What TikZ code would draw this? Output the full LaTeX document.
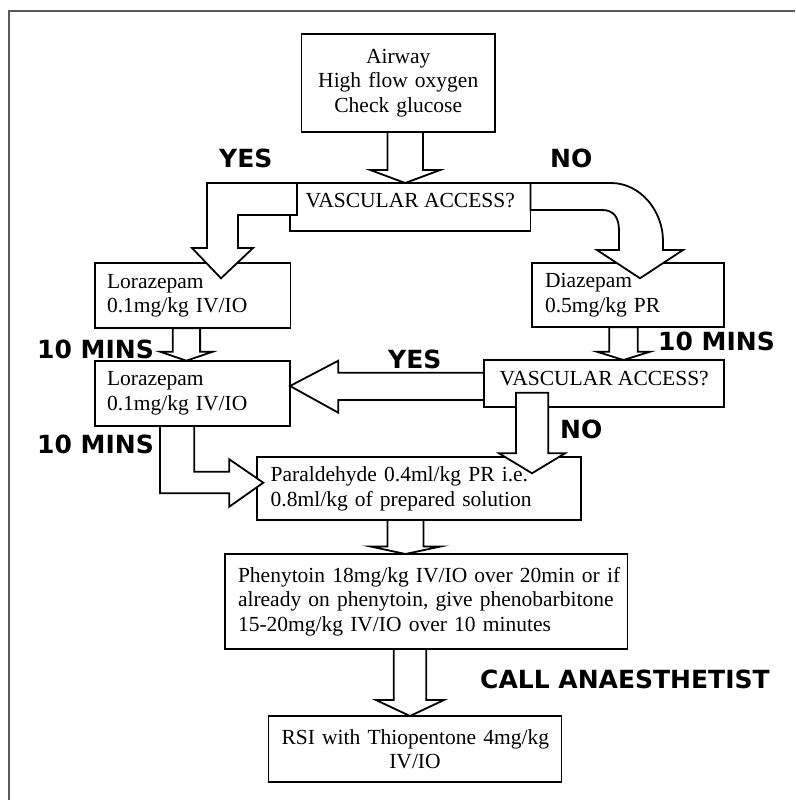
\documentclass[tikz,border=0pt]{standalone}
\usepackage{fontspec}
\setmainfont{Liberation Serif}
\newfontfamily\lblfont{DejaVu Sans}
\usetikzlibrary{calc}
\definecolor{framecol}{HTML}{5A5A5A}
\tikzset{
  box/.style={draw=black, line width=1.8pt, fill=white, outer sep=0pt, inner ysep=0pt,
    anchor=north west, font=\fontsize{21.5}{24.5}\selectfont},
  blk/.style={draw=black, line width=1.8pt, fill=white, line join=miter},
  lbl/.style={anchor=base west, inner sep=0pt, font=\lblfont\fontsize{25}{30}\selectfont\bfseries},
}
% vertical block arrow: x-centre, half shaft, half head, head length, source node, target node
\newcommand{\vblk}[6]{%
  \draw[blk] let \p1=(#5.south), \p2=(#6.north) in
    (#1pt-#2pt,\y1) -- (#1pt-#2pt,\y2+#4pt) -- (#1pt-#3pt,\y2+#4pt) -- (#1pt,\y2)
    -- (#1pt+#3pt,\y2+#4pt) -- (#1pt+#2pt,\y2+#4pt) -- (#1pt+#2pt,\y1) -- cycle;}
\begin{document}
\begin{tikzpicture}[x=1pt,y=-1pt]
\useasboundingbox (0,0) rectangle (795,800);
\draw[framecol, line width=2pt] (9,800) -- (9,11) -- (795,11);

% boxes
\node[box, minimum width=193.5pt, minimum height=97.7pt, inner xsep=13pt, text width=167.5pt, align=center]
  (top) at (301.5,34.3) {Airway\\High flow oxygen\\Check glucose};
\node[box, minimum width=240.5pt, minimum height=48pt, inner xsep=0pt, text height=12pt, text depth=12pt]
  (va1) at (290,183) {VASCULAR ACCESS?};
\node[box, minimum width=195.5pt, minimum height=65pt, inner xsep=12pt, text width=171.5pt, align=left]
  (lz1) at (95,263.3) {Lorazepam\\0.1mg/kg IV/IO};
\node[box, minimum width=192.3pt, minimum height=64pt, inner xsep=13.3pt, text width=165.7pt, align=left]
  (dz) at (531.7,263.3) {Diazepam\\0.5mg/kg PR};
\node[box, minimum width=195pt, minimum height=65.3pt, inner xsep=12pt, text width=171pt, align=left]
  (lz2) at (95,360.7) {Lorazepam\\0.1mg/kg IV/IO};
\node[box, minimum width=240.3pt, minimum height=47.3pt, inner xsep=0pt, text height=13.5pt, text depth=10.8pt]
  (va2) at (484,360) {VASCULAR ACCESS?};
\node[box, minimum width=323.7pt, minimum height=62.7pt, inner xsep=13.4pt, text width=296.9pt, align=left]
  (par) at (257.3,457.3) {\mbox{Paraldehyde 0.4ml/kg PR i.e.}\\\mbox{0.8ml/kg of prepared solution}};
\node[box, minimum width=402.5pt, minimum height=95pt, inner xsep=13pt, text width=376.5pt, align=left]
  (phe) at (225,554) {\mbox{Phenytoin 18mg/kg IV/IO over 20min or if}\\\mbox{already on phenytoin, give phenobarbitone}\\\mbox{15-20mg/kg IV/IO over 10 minutes}};
\node[box, minimum width=293pt, minimum height=66pt, inner xsep=13pt, text width=267pt, align=center]
  (rsi) at (268.5,716) {\mbox{RSI with Thiopentone 4mg/kg}\\IV/IO};

% straight block arrows
\vblk{405.2}{17.7}{35}{13}{top}{va1}
\vblk{186.4}{13.7}{26.4}{9}{lz1}{lz2}
\vblk{623.5}{14.2}{26.7}{8.3}{dz}{va2}
\vblk{405.5}{18}{35}{7.5}{par}{phe}
\vblk{410}{16.3}{34}{16}{phe}{rsi}

% YES: va1 -> lz1
\draw[blk] let \p1=(va1.north west), \p2=(lz1.north) in
  (\x1+7pt,\y1) -- (\x1-83pt,\y1) -- (\x1-83pt,\y2+15.3pt) -- (\x1-98pt,\y2+15.3pt)
  -- (\x1-69pt,\y2-15pt) -- (\x1-37pt,\y2+15.3pt) -- (\x1-52pt,\y2+15.3pt)
  -- (\x1-52pt,\y1-32pt) -- (\x1+7pt,\y1-32pt) -- cycle;

% NO: va1 -> dz (curved)
\draw[blk] let \p1=(va1.north east), \p2=(dz.north) in
  (\x1,\y1) -- (\x1+80.5pt,\y1)
  .. controls (\x1+110pt,\y1) and (\x1+132.5pt,\y1-28pt) .. (\x1+132.5pt,\y1-58pt)
  -- (\x1+132.5pt,\y2+13.3pt) -- (\x1+152.5pt,\y2+13.3pt) -- (\x1+109.5pt,\y2-15pt)
  -- (\x1+66.5pt,\y2+13.3pt) -- (\x1+88.5pt,\y2+13.3pt) -- (\x1+88.5pt,\y1-48pt)
  .. controls (\x1+88.5pt,\y1-34pt) and (\x1+83pt,\y1-27pt) .. (\x1+71.5pt,\y1-27pt)
  -- (\x1,\y1-27pt) -- cycle;

% YES: va2 -> lz2
\draw[blk] let \p1=(va2.north west), \p2=(lz2.east) in
  (\x1,\y1-12.7pt) -- (\x2+48.3pt,\y1-12.7pt) -- (\x2+48.3pt,\y1-0.7pt) -- (\x2,\y1-26pt)
  -- (\x2+48.3pt,\y1-52.7pt) -- (\x2+48.3pt,\y1-40pt) -- (\x1,\y1-40pt) -- cycle;

% NO: va2 -> par
\draw[blk] let \p1=(va2.south), \p2=(par.north) in
  (516pt,\y1+14.6pt) -- (516pt,\y2+4pt) -- (499pt,\y2+4pt) -- (532pt,\y2-16pt)
  -- (565pt,\y2+4pt) -- (548.3pt,\y2+4pt) -- (548.3pt,\y1+14.6pt) -- cycle;

% 10 MINS: lz2 -> par (bent)
\draw[blk] let \p1=(lz2.south west), \p2=(par.west) in
  (\x1+65pt,\y1) -- (\x1+65pt,\y2-4.65pt) -- (\x2-28pt,\y2-4.65pt) -- (\x2-28pt,\y2-18.05pt)
  -- (\x2+6pt,\y2+5.95pt) -- (\x2-28pt,\y2+29.35pt) -- (\x2-28pt,\y2+16.95pt)
  -- (\x1+99.3pt,\y2+16.95pt) -- (\x1+99.3pt,\y1) -- cycle;

% labels
\node[lbl] (yes1) at (219,167.3) {YES};
\node[lbl] (no1) at (550,167.3) {NO};
\node[lbl] (min1) at (37,358.3) {10 MINS};
\node[lbl] (min2) at (37,453.3) {10 MINS};
\node[lbl] (min3) at (658,350.7) {10 MINS};
\node[lbl] (yes2) at (388,368.3) {YES};
\node[lbl] (no2) at (560,438.3) {NO};
\node[lbl] (call) at (480,688.3) {CALL ANAESTHETIST};
\end{tikzpicture}
\end{document}
